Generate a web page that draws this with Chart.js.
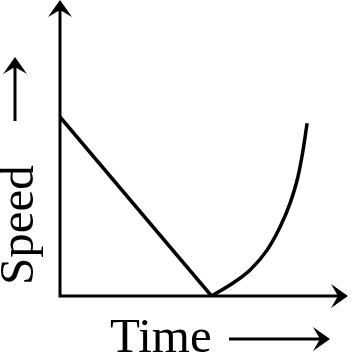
<!DOCTYPE html>
<html>
<head>
<meta charset="utf-8">
<script src="https://cdn.jsdelivr.net/npm/chart.js@4"></script>
<style>
  html, body { margin: 0; padding: 0; background: #fff; }
  #wrap { width: 352px; height: 356px; }
</style>
</head>
<body>
<div id="wrap"><canvas id="c" width="352" height="356"></canvas></div>
<script>
// Axis labels
const xLabel = 'Time';
const yLabel = 'Speed';

// Falling straight part: speed drops linearly to zero
const fallTime = [0, 5.26];
const fallSpeed = [6.05, 0];

// Rising curved part after the stop
const riseTime = [5.26, 6.01, 6.60, 7.19, 7.64, 7.99, 8.26, 8.44, 8.58];
const riseSpeed = [0, 0.44, 0.88, 1.55, 2.33, 3.14, 4.02, 4.93, 5.84];

const toPoints = (xs, ys) => xs.map((x, i) => ({ x: x, y: ys[i] }));

// draw a barbed arrowhead with its tip at (x, y), pointing along angle
function arrowHead(ctx, x, y, angle, len, half, notch) {
  ctx.save();
  ctx.translate(x, y);
  ctx.rotate(angle);
  ctx.beginPath();
  ctx.moveTo(0, 0);
  ctx.lineTo(-len, -half);
  ctx.lineTo(-notch, 0);
  ctx.lineTo(-len, half);
  ctx.closePath();
  ctx.fill();
  ctx.restore();
}

// axes with arrows and the two labels
const sketchAxes = {
  id: 'sketchAxes',
  beforeDatasetsDraw(chart) {
    const { ctx, chartArea: a } = chart;
    ctx.save();
    ctx.strokeStyle = '#000';
    ctx.fillStyle = '#000';
    ctx.lineWidth = 3;
    ctx.lineCap = 'butt';
    ctx.beginPath();
    ctx.moveTo(a.left, a.top + 8);
    ctx.lineTo(a.left, a.bottom);
    ctx.lineTo(a.right - 8, a.bottom);
    ctx.stroke();
    arrowHead(ctx, a.left, a.top, -Math.PI / 2, 17, 12, 10);
    arrowHead(ctx, a.right, a.bottom, 0, 17, 12, 10);
    ctx.restore();
  },
  afterDraw(chart) {
    const { ctx } = chart;
    ctx.save();
    ctx.fillStyle = '#000';
    ctx.strokeStyle = '#000';
    ctx.font = '49px "Liberation Serif", "Times New Roman", serif';
    ctx.textBaseline = 'alphabetic';

    // x label and its arrow
    ctx.textAlign = 'left';
    ctx.fillText(xLabel, 110, 352);
    ctx.lineWidth = 3;
    ctx.beginPath();
    ctx.moveTo(229, 339);
    ctx.lineTo(322, 339);
    ctx.stroke();
    arrowHead(ctx, 330, 339, 0, 17, 12, 10);

    // y label (rotated) and its arrow
    ctx.save();
    ctx.translate(33, 285);
    ctx.rotate(-Math.PI / 2);
    ctx.textAlign = 'left';
    ctx.fillText(yLabel, 0, 0);
    ctx.restore();
    ctx.beginPath();
    ctx.moveTo(15, 121);
    ctx.lineTo(15, 65);
    ctx.stroke();
    arrowHead(ctx, 15, 57, -Math.PI / 2, 17, 12, 10);
    ctx.restore();
  }
};

new Chart(document.getElementById('c'), {
  type: 'scatter',
  data: {
    datasets: [
      {
        label: 'fall',
        data: toPoints(fallTime, fallSpeed),
        showLine: true,
        borderColor: '#000',
        borderWidth: 3.5,
        pointRadius: 0,
        tension: 0
      },
      {
        label: 'rise',
        data: toPoints(riseTime, riseSpeed),
        showLine: true,
        borderColor: '#000',
        borderWidth: 3.5,
        pointRadius: 0,
        cubicInterpolationMode: 'monotone'
      }
    ]
  },
  options: {
    responsive: false,
    animation: false,
    layout: { padding: { left: 60, right: 4, top: 0, bottom: 60 } },
    scales: {
      x: { type: 'linear', display: false, min: 0, max: 10 },
      y: { type: 'linear', display: false, min: 0, max: 10 }
    },
    plugins: {
      legend: { display: false },
      tooltip: { enabled: false }
    }
  },
  plugins: [sketchAxes]
});
</script>
</body>
</html>
